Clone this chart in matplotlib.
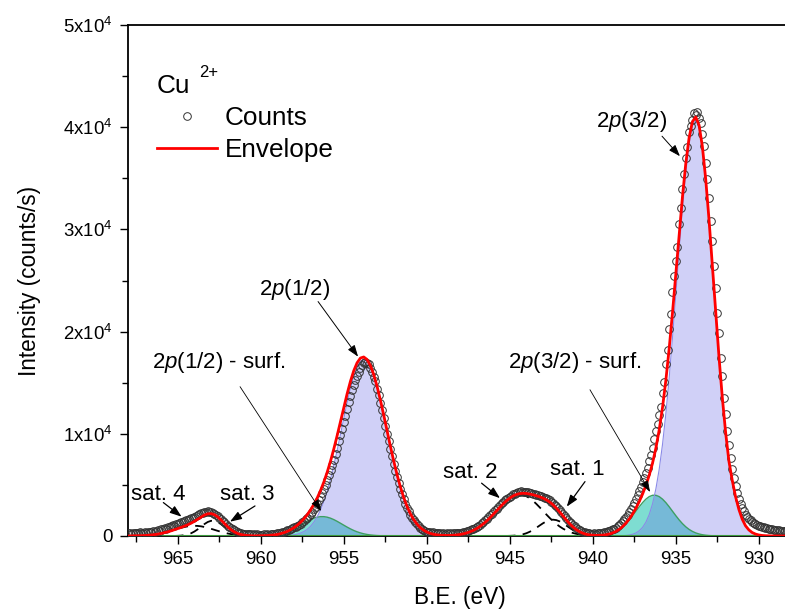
import numpy as np
import matplotlib
matplotlib.use('Agg')
import matplotlib.pyplot as plt
from matplotlib.lines import Line2D
from matplotlib.ticker import MultipleLocator

plt.rcParams['font.family'] = ['Liberation Sans', 'DejaVu Sans']
plt.rcParams['mathtext.fontset'] = 'custom'
plt.rcParams['mathtext.rm'] = 'Liberation Sans'
plt.rcParams['mathtext.it'] = 'Liberation Sans:italic'

# binding energy grids (eV): fit components every 0.2 eV, counts every 0.1 eV
be_fit = np.round(968.0 - 0.2 * np.arange(201), 1)
be_counts = np.round(968.0 - 0.1 * np.arange(401), 1)

# measured counts, 968.0 -> 928.0 eV
counts = [
    260, 310, 230, 290, 340, 250, 300, 360, 280, 330,            # 968
    370, 310, 400, 350, 430, 480, 420, 530, 560, 520,            # 967
    640, 700, 760, 730, 850, 910, 960, 1040, 1010, 1150,         # 966
    1220, 1260, 1370, 1330, 1460, 1520, 1560, 1690, 1740, 1810,  # 965
    1900, 1960, 2080, 2120, 2240, 2290, 2380, 2350, 2420, 2370,  # 964
    2330, 2260, 2190, 2070, 1960, 1800, 1650, 1490, 1330, 1160,  # 963
    1010, 880, 760, 640, 560, 450, 400, 330, 300, 240,           # 962
    230, 180, 210, 150, 190, 130, 170, 120, 160, 110,            # 961
    140, 100, 150, 120, 170, 140, 200, 170, 240, 220,            # 960
    280, 260, 340, 390, 440, 480, 560, 620, 700, 760,            # 959
    840, 920, 1000, 1120, 1220, 1330, 1450, 1620, 1780, 1960,    # 958
    2110, 2380, 2600, 2870, 3180, 3490, 3820, 4210, 4600, 5030,  # 957
    5450, 5940, 6420, 6930, 7480, 8050, 8640, 9270, 9870, 10500,  # 956
    11150, 11790, 12420, 13080, 13650, 14240, 14780, 15260, 15700, 16090,  # 955
    16420, 16750, 16900, 17020, 16880, 16790, 16460, 16080, 15590, 15120,  # 954
    14430, 13780, 13060, 12280, 11520, 10760, 10000, 9270, 8520, 7810,     # 953
    7090, 6400, 5760, 5180, 4620, 4080, 3620, 3170, 2780, 2420,  # 952
    2090, 1790, 1560, 1330, 1130, 980, 820, 700, 600, 510,       # 951
    440, 380, 400, 330, 350, 290, 320, 260, 300, 240,            # 950
    270, 220, 250, 200, 260, 230, 280, 250, 310, 300,            # 949
    340, 330, 400, 430, 470, 520, 580, 640, 720, 800,            # 948
    900, 1000, 1110, 1250, 1380, 1530, 1680, 1850, 2010, 2180,   # 947
    2330, 2520, 2680, 2870, 3010, 3190, 3330, 3480, 3610, 3750,  # 946
    3860, 3950, 4080, 4130, 4250, 4270, 4330, 4360, 4310, 4350,  # 945
    4290, 4280, 4210, 4230, 4150, 4120, 4060, 4050, 3960, 3900,  # 944
    3830, 3750, 3690, 3580, 3480, 3350, 3220, 3060, 2890, 2700,  # 943
    2520, 2310, 2130, 1930, 1740, 1560, 1400, 1230, 1060, 930,   # 942
    800, 700, 600, 510, 440, 390, 330, 300, 260, 240,            # 941
    230, 260, 240, 280, 300, 290, 340, 370, 410, 460,            # 940
    520, 560, 640, 720, 820, 930, 1070, 1240, 1420, 1620,        # 939
    1850, 2080, 2340, 2620, 2930, 3260, 3600, 3980, 4380, 4800,  # 938
    5250, 5700, 6180, 6700, 7300, 7950, 8640, 9450, 10250, 11000,  # 937
    11800, 12650, 13950, 15100, 16800, 18200, 20250, 21700, 23900, 25450,  # 936
    26900, 28300, 30500, 32100, 34000, 35400, 37000, 38100, 39500, 40100,  # 935
    40700, 41400, 41200, 41500, 40900, 40400, 39300, 38200, 36500, 34900,  # 934
    33100, 30800, 28900, 26400, 24300, 21800, 19900, 17400, 15700, 13500,  # 933
    11900, 10300, 8900, 7600, 6600, 5700, 4900, 4200, 3600, 3100,  # 932
    2700, 2400, 2100, 1900, 1700, 1550, 1400, 1300, 1200, 1100,    # 931
    1000, 950, 880, 850, 790, 760, 700, 690, 640, 620,             # 930
    590, 560, 570, 520, 500, 480, 450, 460, 420, 410,              # 929
    390,
]

# fitted components, each starting at its own energy (0.2 eV steps)
p32_start = 938.4
p32 = [14, 27, 52, 96, 173, 303, 515, 847, 1355, 2100, 3158, 4611, 6528,
       8970, 11958, 15462, 19402, 23614, 27888, 31954, 35523, 38311, 40089,
       40700, 40008, 38002, 34880, 30936, 26512, 21954, 17566, 13582, 10151,
       7326, 5450, 3850, 2600, 1650, 1000, 600, 340, 190, 100, 52, 26, 12, 6, 3]

p32_surf_start = 940.2
p32_surf = [7, 14, 25, 44, 75, 124, 197, 302, 450, 646, 900, 1212, 1578, 1990,
            2426, 2862, 3267, 3607, 3854, 3984, 3984, 3854, 3607, 3267, 2862,
            2426, 1990, 1578, 1212, 900, 646, 450, 302, 197, 124, 75, 44, 25, 14, 7]

sat1_start = 945.2
sat1 = [7, 15, 30, 56, 100, 170, 272, 412, 591, 801, 1028, 1247, 1432, 1556,
        1600, 1556, 1432, 1247, 1028, 801, 591, 412, 272, 170, 100, 56, 30, 15, 7]

sat2_start = 949.4
sat2 = [7, 11, 18, 29, 45, 68, 102, 149, 212, 297, 408, 548, 722, 932, 1178,
        1460, 1772, 2108, 2456, 2805, 3138, 3440, 3695, 3888, 4009, 4050, 4009,
        3888, 3695, 3440, 3138, 2805, 2456, 2108, 1772, 1460, 1178, 932, 722,
        548, 408, 297, 212, 149, 102, 68, 45, 29, 18, 11, 7]

p12_start = 958.8
p12 = [15, 26, 44, 73, 118, 188, 292, 443, 659, 957, 1360, 1886, 2560, 3396,
       4405, 5584, 6923, 8391, 9942, 11515, 13041, 14437, 15625, 16535, 17106,
       17300, 17120, 16589, 15740, 14624, 13305, 11854, 10340, 8833, 7389, 6053,
       4854, 3813, 2932, 2209, 1628, 1176, 832, 576, 391, 259, 168, 107, 67, 41, 24, 14]

p12_surf_start = 960.2
p12_surf = [10, 16, 27, 43, 68, 102, 151, 217, 303, 411, 542, 697, 870, 1057,
            1248, 1434, 1603, 1742, 1841, 1893, 1893, 1841, 1742, 1603, 1434,
            1248, 1057, 870, 697, 542, 411, 303, 217, 151, 102, 68, 43, 27, 16, 10]

sat3_start = 965.2
sat3 = [7, 17, 38, 79, 151, 267, 436, 656, 910, 1162, 1368, 1485, 1485, 1368,
        1162, 910, 656, 436, 267, 151, 79, 38, 17, 7]

sat4_start = 967.8
sat4 = [7, 11, 18, 29, 44, 66, 96, 135, 186, 249, 325, 411, 506, 607, 707, 801,
        883, 946, 986, 1000, 986, 946, 883, 801, 707, 607, 506, 411, 325, 249,
        186, 135, 96, 66, 44, 29, 18, 11, 7]


def span(start, vals):
    i0 = int(round((968.0 - start) / 0.2))
    return i0, i0 + len(vals)


def on_grid(start, vals):
    full = np.zeros(len(be_fit))
    a, b = span(start, vals)
    full[a:b] = vals
    return full


main_peaks = [(p32_start, p32), (p12_start, p12)]
surf_peaks = [(p32_surf_start, p32_surf), (p12_surf_start, p12_surf)]
satellites = [(sat1_start, sat1), (sat2_start, sat2), (sat3_start, sat3), (sat4_start, sat4)]

envelope = sum(on_grid(s, v) for s, v in main_peaks + surf_peaks + satellites)

fig = plt.figure(figsize=(7.85, 6.1), dpi=100)
ax = fig.add_axes([128 / 785, 74 / 610, 664 / 785, 511 / 610])

for s, v in surf_peaks:
    a, b = span(s, v)
    ax.fill_between(be_fit[a:b], v, 0, color=(0.16, 0.78, 0.70), alpha=0.6, lw=0, zorder=1)
    ax.plot(be_fit[a:b], v, color='#3d9f63', lw=1.0, zorder=2)

for s, v in main_peaks:
    a, b = span(s, v)
    ax.fill_between(be_fit[a:b], v, 0, color=(0.40, 0.40, 0.90), alpha=0.3, lw=0, zorder=1.5)
    ax.plot(be_fit[a:b], v, color='#8a8ae8', lw=0.8, zorder=2)

for s, v in satellites:
    a, b = span(s, v)
    ax.plot(be_fit[a:b], v, color='k', lw=1.3, ls=(0, (5, 4)), zorder=2.5)

ax.axhline(0, color='#3c9a3c', lw=1.5, zorder=2.6)

ax.plot(be_counts, counts, 'o', mfc='none', mec='#333333', ms=5.5, mew=0.7, zorder=3)
ax.plot(be_fit, envelope, color='#ff0000', lw=2.0, zorder=4)

# labels and arrows (label position, arrow tail, arrow head)
notes = [
    ('2$p$(3/2)', (937.64, 40590), (935.83, 39120), (934.75, 37160), 0.7),
    ('2$p$(1/2)', (957.94, 24120), (956.55, 22940), (954.14, 17550), 0.7),
    ('2$p$(1/2) - surf.', (962.52, 16960), (961.25, 14610), (956.37, 2450), 0.6),
    ('2$p$(3/2) - surf.', (941.07, 16960), (940.17, 14310), (936.55, 4310), 0.6),
    ('sat. 2', (947.40, 6180), (946.70, 5170), (945.59, 3700), 0.9),
    ('sat. 1', (940.95, 6470), (940.47, 5320), (941.57, 2870), 0.9),
    ('sat. 4', (966.19, 4020), (965.87, 3270), (964.77, 1890), 0.9),
    ('sat. 3', (960.83, 4020), (960.35, 2940), (961.86, 1400), 0.9),
]
for label, txt, tail, head, lw in notes:
    ax.text(txt[0], txt[1], label, fontsize=16, ha='center', va='center', zorder=5)
    ax.annotate('', xy=head, xytext=tail,
                arrowprops=dict(arrowstyle='-|>,head_length=0.7,head_width=0.25',
                                color='k', lw=lw, shrinkA=0, shrinkB=0,
                                mutation_scale=10), zorder=5)

ax.set_xlim(968, 928)
ax.set_ylim(0, 50000)
ax.set_xticks([965, 960, 955, 950, 945, 940, 935, 930])
ax.xaxis.set_minor_locator(MultipleLocator(2.5))
ax.set_yticks([0, 10000, 20000, 30000, 40000, 50000])
ax.set_yticklabels(['0', '1x10$^4$', '2x10$^4$', '3x10$^4$', '4x10$^4$', '5x10$^4$'])
ax.yaxis.set_minor_locator(MultipleLocator(5000))
ax.tick_params(which='both', direction='out', width=1.0, top=False, right=False, labelsize=13.4)
ax.tick_params(which='major', length=6, pad=5)
ax.tick_params(which='minor', length=4.5)
ax.spines['right'].set_visible(False)
for side in ['left', 'top', 'bottom']:
    ax.spines[side].set_linewidth(1.3)

ax.set_xlabel('B.E. (eV)', fontsize=16.3, labelpad=13)
ax.set_ylabel('Intensity (counts/s)', fontsize=16.3, labelpad=16)

handles = [Line2D([], [], ls='none', marker='o', mfc='none', mec='#333333', ms=5.5, mew=0.7),
           Line2D([], [], color='#ff0000', lw=2.0)]
ax.legend(handles, ['Counts', 'Envelope'], loc='upper left', frameon=False,
          fontsize=18.8, handlelength=2.3, handletextpad=0.3, labelspacing=0.32,
          borderpad=0, borderaxespad=0,
          bbox_to_anchor=(157 / 785, 1 - 106 / 610), bbox_transform=fig.transFigure)

fig.text(157 / 785, 1 - 93 / 610, 'Cu', fontsize=18.8, va='baseline')
fig.text(199 / 785, 1 - 77 / 610, '2+', fontsize=12, va='baseline')

fig.savefig('out.png', dpi=100)
